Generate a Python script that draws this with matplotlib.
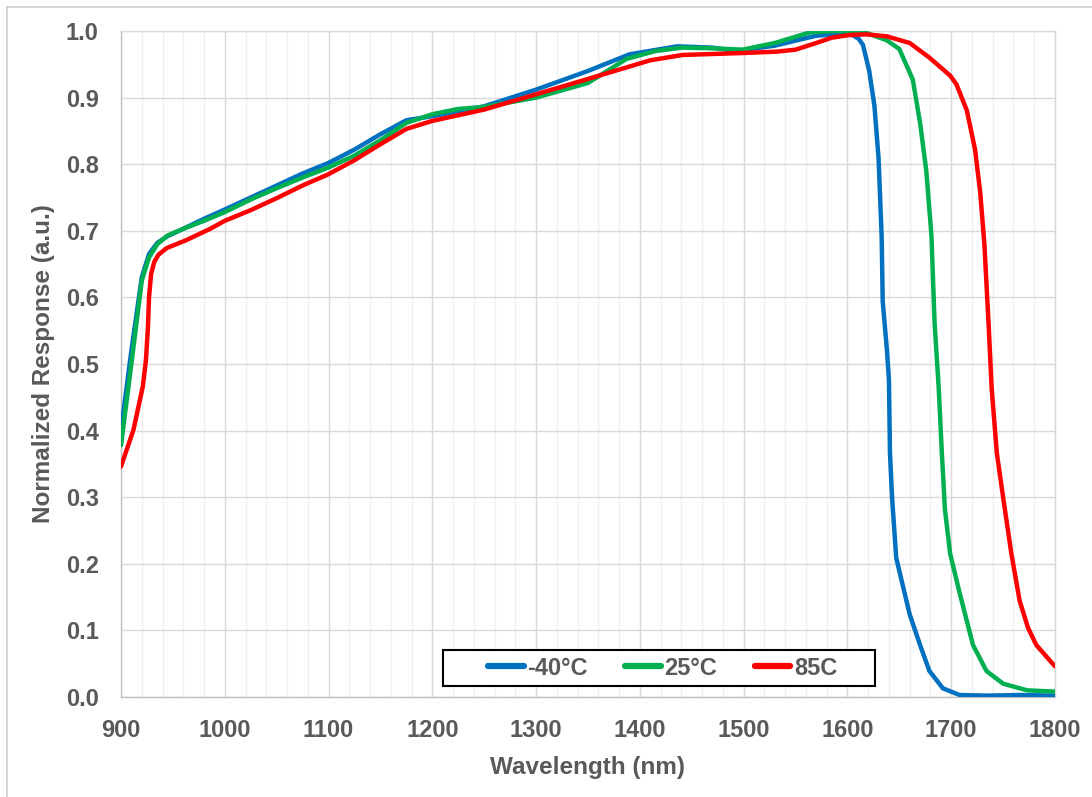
import numpy as np
import matplotlib.pyplot as plt
from matplotlib.lines import Line2D
from matplotlib.patches import Rectangle

# -40°C
wl_m40 = [900, 910, 920, 927, 935, 945, 960, 980, 1000, 1025, 1050, 1075, 1100, 1125, 1150, 1175,
          1200, 1250, 1300, 1350, 1390, 1436, 1470, 1493, 1530, 1570, 1590, 1605, 1611, 1615, 1621, 1626,
          1630, 1633, 1634, 1638, 1640, 1641, 1643, 1647, 1660, 1670, 1679, 1692, 1708, 1734, 1766, 1800]
resp_m40 = [0.400, 0.520, 0.630, 0.665, 0.682, 0.692, 0.703, 0.718, 0.732, 0.750, 0.768, 0.786, 0.802,
            0.822, 0.845, 0.866, 0.872, 0.887, 0.912, 0.940, 0.965, 0.977, 0.975, 0.970, 0.978, 0.993,
            0.995, 0.994, 0.988, 0.979, 0.940, 0.888, 0.809, 0.691, 0.594, 0.522, 0.476, 0.366, 0.300,
            0.209, 0.124, 0.078, 0.039, 0.013, 0.003, 0.002, 0.003, 0.002]

# 25°C
wl_25 = [900, 910, 920, 927, 935, 945, 960, 980, 1000, 1025, 1050, 1075, 1100, 1125, 1150, 1175,
         1200, 1225, 1250, 1300, 1350, 1387, 1415, 1441, 1470, 1499, 1530, 1564, 1590, 1615, 1638,
         1650, 1663, 1670, 1676, 1681, 1684, 1688, 1691, 1694, 1699, 1708, 1721, 1734, 1750, 1773, 1800]
resp_25 = [0.378, 0.500, 0.625, 0.660, 0.680, 0.693, 0.703, 0.715, 0.728, 0.747, 0.764, 0.780, 0.795,
           0.813, 0.836, 0.862, 0.875, 0.883, 0.886, 0.900, 0.922, 0.958, 0.970, 0.975, 0.974, 0.972,
           0.982, 0.998, 1.000, 0.999, 0.986, 0.973, 0.927, 0.862, 0.790, 0.692, 0.561, 0.463, 0.366,
           0.281, 0.215, 0.157, 0.078, 0.039, 0.020, 0.010, 0.008]

# 85C
wl_85 = [900, 912, 921, 924, 926, 927, 929, 932, 936, 944, 963, 986, 1000, 1025, 1050, 1075, 1100,
         1125, 1150, 1175, 1200, 1250, 1300, 1350, 1410, 1441, 1500, 1532, 1550, 1570, 1585, 1602, 1618,
         1638, 1660, 1679, 1699, 1705, 1715, 1723, 1728, 1732, 1736, 1739, 1744, 1750, 1758, 1766, 1774,
         1782, 1800]
resp_85 = [0.346, 0.401, 0.466, 0.505, 0.556, 0.600, 0.635, 0.653, 0.664, 0.674, 0.686, 0.703, 0.715,
           0.731, 0.749, 0.768, 0.785, 0.806, 0.830, 0.853, 0.865, 0.882, 0.905, 0.928, 0.956, 0.964,
           0.967, 0.969, 0.972, 0.982, 0.990, 0.994, 0.995, 0.992, 0.982, 0.960, 0.933, 0.920, 0.881,
           0.822, 0.757, 0.679, 0.561, 0.463, 0.366, 0.300, 0.215, 0.144, 0.104, 0.078, 0.046]

labels = ['-40°C', '25°C', '85C']
colors = ['#0070C0', '#00B050', '#FF0000']

text_color = '#595959'
plt.rcParams['font.family'] = ['Liberation Sans', 'DejaVu Sans']
plt.rcParams['font.weight'] = 'bold'

fig = plt.figure(figsize=(10.92, 7.97), dpi=100)
ax = fig.add_axes([0.1108, 0.1255, 0.8553, 0.8356])

series = [(wl_m40, resp_m40), (wl_25, resp_25), (wl_85, resp_85)]
for (x, y), lab, c in zip(series, labels, colors):
    ax.plot(x, y, color=c, linewidth=3.2, label=lab, solid_joinstyle='round',
            solid_capstyle='round', zorder=3)

ax.set_xlim(900, 1800)
ax.set_ylim(0, 1.0)
ax.set_xticks(np.arange(900, 1801, 100))
ax.set_xticks(np.arange(900, 1801, 20), minor=True)
ax.set_yticks(np.arange(0, 1.01, 0.1))
ax.set_yticklabels(['%.1f' % v for v in np.arange(0, 1.01, 0.1)])

ax.grid(which='major', color='#D9D9D9', linewidth=1.0)
ax.grid(which='minor', axis='x', color='#F0F0F0', linewidth=1.0)
ax.set_axisbelow(True)
for s in ax.spines.values():
    s.set_color('#D9D9D9')
    s.set_linewidth(1.0)
ax.spines['left'].set_color('#BFBFBF')
ax.spines['bottom'].set_color('#BFBFBF')

ax.tick_params(which='both', length=0, labelsize=17, labelcolor=text_color, pad=16)

ax.set_xlabel('Wavelength (nm)', fontsize=17.5, color=text_color, fontweight='bold', labelpad=10)
ax.set_ylabel('Normalized Response (a.u.)', fontsize=17.5, color=text_color, fontweight='bold', labelpad=8)

# legend: text without frame plus a separate box like Excel's
handles = [Line2D([0], [0], color=c, linewidth=4.5, solid_capstyle='round') for c in colors]
leg = ax.legend(handles, labels, ncol=3, loc='center', bbox_to_anchor=(0.58, 0.0435),
                frameon=False, fontsize=17, handlelength=1.5, handletextpad=0.15,
                columnspacing=1.6)
for t in leg.get_texts():
    t.set_color(text_color)
    t.set_fontweight('bold')
leg.set_zorder(6)
ax.add_patch(Rectangle((0.3448, 0.0165), 0.4625, 0.0541, transform=ax.transAxes,
                       facecolor='white', edgecolor='black', linewidth=1.5, zorder=5))

# outer chart frame (top and left edges visible)
fig.add_artist(Line2D([7 / 1092, 7 / 1092], [0, 1 - 7 / 797], transform=fig.transFigure,
                      color='#D0D0D0', linewidth=1.2))
fig.add_artist(Line2D([7 / 1092, 1], [1 - 7 / 797, 1 - 7 / 797], transform=fig.transFigure,
                      color='#D0D0D0', linewidth=1.2))

fig.savefig('out.png', dpi=100)
